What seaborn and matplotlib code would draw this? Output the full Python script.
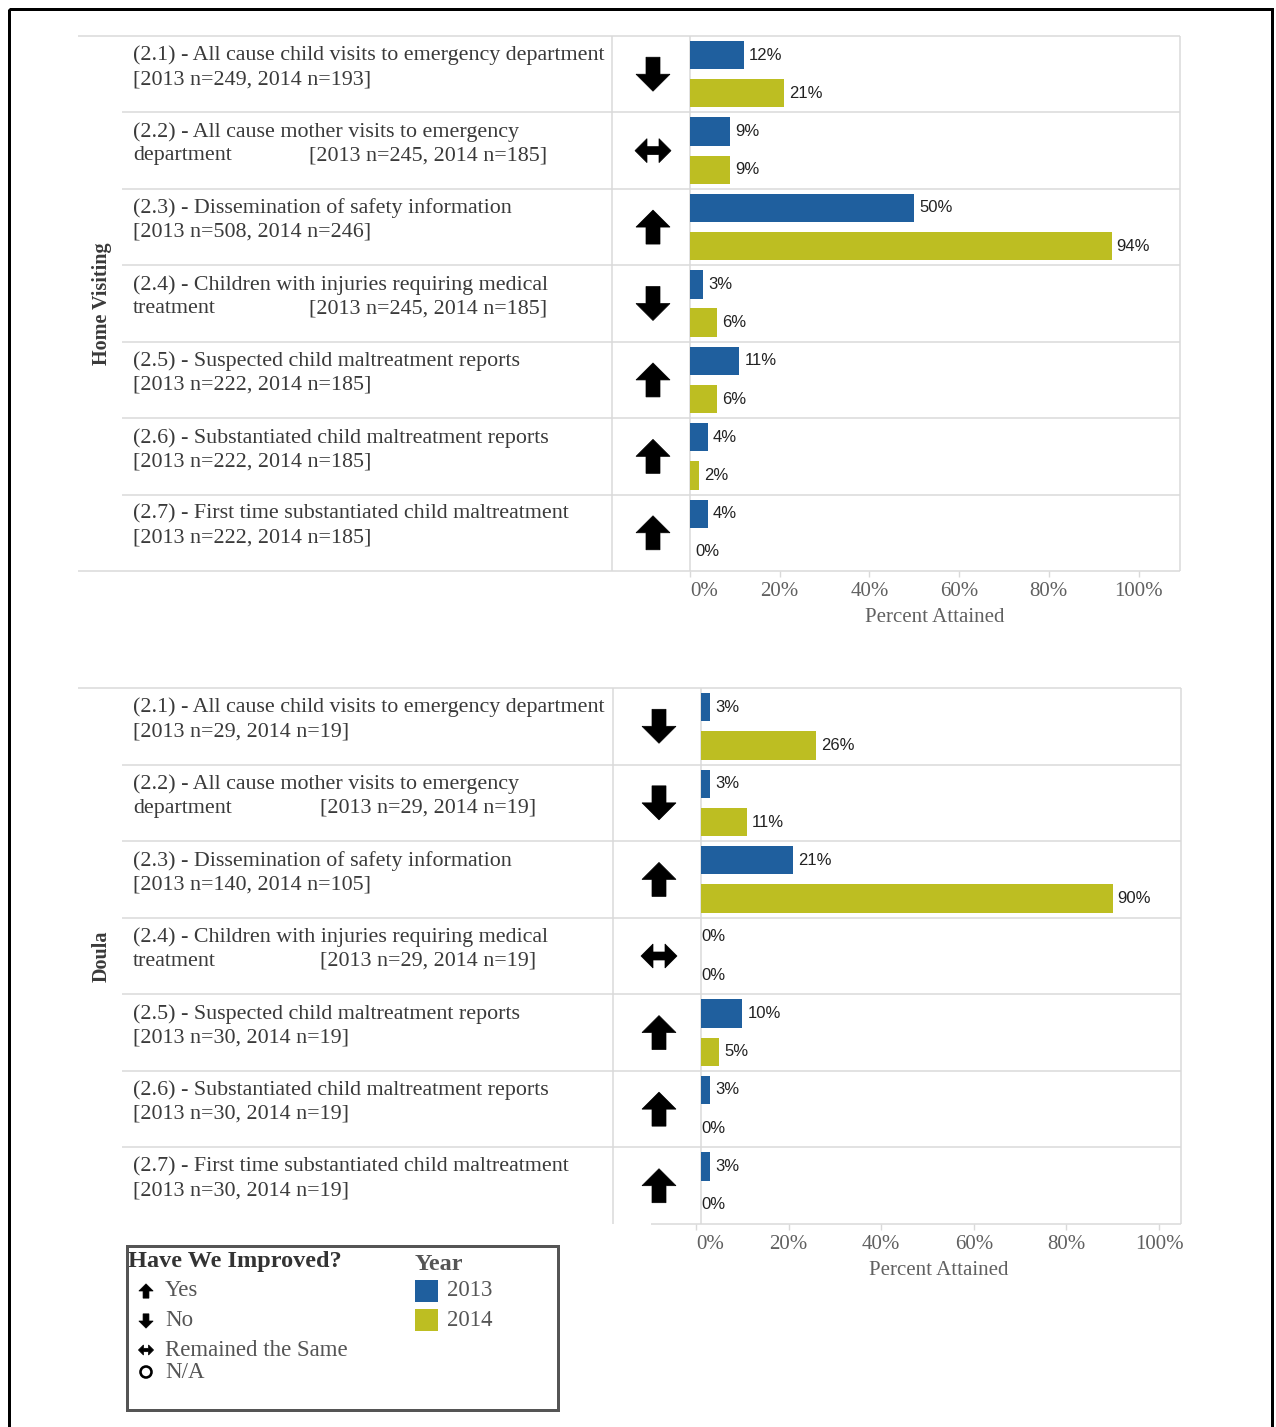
import matplotlib
matplotlib.use("Agg")
import matplotlib.pyplot as plt
from matplotlib.patches import Polygon, Rectangle, Circle
from matplotlib.transforms import Bbox, TransformedBbox
import numpy as np
import pandas as pd
import seaborn as sns

# ---------------------------------------------------------------- data
codes = ["2.1", "2.2", "2.3", "2.4", "2.5", "2.6", "2.7"]
label_line1 = [
    "(2.1) - All cause child visits to emergency department",
    "(2.2) - All cause mother visits to emergency",
    "(2.3) - Dissemination of safety information",
    "(2.4) - Children with injuries requiring medical",
    "(2.5) - Suspected child maltreatment reports",
    "(2.6) - Substantiated child maltreatment reports",
    "(2.7) - First time substantiated child maltreatment",
]
label_line2_prefix = ["", "department", "", "treatment", "", "", ""]

years = ["2013", "2014"]

hv_n_2013 = [249, 245, 508, 245, 222, 222, 222]
hv_n_2014 = [193, 185, 246, 185, 185, 185, 185]
hv_pct_2013 = [12, 9, 50, 3, 11, 4, 4]
hv_pct_2014 = [21, 9, 94, 6, 6, 2, 0]
hv_trend = ["No", "Same", "Yes", "No", "Yes", "Yes", "Yes"]

doula_n_2013 = [29, 29, 140, 29, 30, 30, 30]
doula_n_2014 = [19, 19, 105, 19, 19, 19, 19]
doula_pct_2013 = [3, 3, 21, 0, 10, 3, 3]
doula_pct_2014 = [26, 11, 90, 0, 5, 0, 0]
doula_trend = ["No", "No", "Yes", "Same", "Yes", "Yes", "Yes"]

ticks = [0, 20, 40, 60, 80, 100]
legend_trend = [("Yes", "Yes"), ("No", "No"), ("Same", "Remained the Same"), ("NA", "N/A")]

# ---------------------------------------------------------------- style
sns.set_theme(style="white")
plt.rcParams["font.family"] = ["Liberation Serif", "DejaVu Serif"]

BLUE = "#1f5f9e"
OLIVE = "#bdbe22"
GRID = "#d9d9d9"
TEXT = "#3a3a3a"
AXTEXT = "#606060"
LABEL_SIZE = 15.8

W, H = 1276, 1427
PT = 72 / 100  # points per pixel at dpi 100

fig = plt.figure(figsize=(W / 100, H / 100), dpi=100)
fig.patch.set_facecolor("white")
ov = fig.add_axes([0, 0, 1, 1])
ov.set_xlim(0, W)
ov.set_ylim(H, 0)
ov.axis("off")


def rect(x0, y0, x1, y1):
    return [x0 / W, 1 - y1 / H, (x1 - x0) / W, (y1 - y0) / H]


def line(xs, ys, color=GRID, lw=1.5):
    ov.plot(xs, ys, color=color, lw=lw * PT, solid_capstyle="butt", zorder=1)


ARROWS = {
    "Yes": [(0, -17), (17, 0), (7, 0), (7, 17), (-7, 17), (-7, 0), (-17, 0)],
    "No": [(0, 17), (17, 0), (7, 0), (7, -17), (-7, -17), (-7, 0), (-17, 0)],
    "Same": [(-18, 0), (-6, -12), (-6, -4), (6, -4), (6, -12), (18, 0),
             (6, 12), (6, 4), (-6, 4), (-6, 12)],
}


def icon(kind, cx, cy, s=1.0):
    if kind == "NA":
        ov.add_patch(Circle((cx, cy), 5.5 * s / 0.42, fill=False, ec="black",
                            lw=2.6 * PT, zorder=3))
        return
    pts = [(cx + x * s, cy + y * s) for x, y in ARROWS[kind]]
    ov.add_patch(Polygon(pts, closed=True, fc="black", ec="black", lw=0.5, zorder=3))


# outer frame
ov.add_patch(Rectangle((9, 9), 1263, 1440, fill=False, ec="black", lw=3 * PT, zorder=5))


def draw_panel(title, top, bottom, sep_x, clip_x, zero_x, right_x, px_per_pct,
               n13, n14, v13, v14, trend, bottom_left, arrow_x, bracket_dx):
    rh = (bottom - top) / 7

    # grid lines of the table
    line([78, right_x], [top, top])
    for i in range(1, 7):
        y = top + i * rh
        line([122, right_x], [y, y])
    line([bottom_left, right_x], [bottom, bottom])
    for x in (sep_x, clip_x, right_x):
        line([x, x], [top, bottom])

    # panel title
    ov.text(102, (top + bottom) / 2, title, rotation=90, ha="center", va="center",
            fontsize=14.5, fontweight="bold", color=TEXT)

    # row labels and trend arrows
    for i in range(7):
        rt = top + i * rh
        ov.text(133, rt + 19.5, label_line1[i], ha="left", va="center",
                fontsize=LABEL_SIZE, color=TEXT)
        bracket = f"[2013 n={n13[i]}, 2014 n={n14[i]}]"
        if label_line2_prefix[i]:
            ov.text(133, rt + 43.5, label_line2_prefix[i], ha="left", va="center",
                    fontsize=LABEL_SIZE, color=TEXT)
            ov.text(133 + bracket_dx, rt + 43.5, bracket, ha="left", va="center",
                    fontsize=LABEL_SIZE, color=TEXT)
        else:
            ov.text(133, rt + 43.5, bracket, ha="left", va="center",
                    fontsize=LABEL_SIZE, color=TEXT)
        icon(trend[i], arrow_x, rt + rh / 2)

    # bars
    ax = fig.add_axes(rect(zero_x, top, right_x, bottom))
    ax.patch.set_alpha(0)
    df = pd.DataFrame({
        "measure": codes * 2,
        "year": [years[0]] * 7 + [years[1]] * 7,
        "value": list(v13) + list(v14),
    })
    sns.barplot(data=df, x="value", y="measure", hue="year", hue_order=years,
                order=codes, orient="h", palette=[BLUE, OLIVE], saturation=1,
                width=1.0, gap=0.26, errorbar=None, legend=False, ax=ax,
                linewidth=0)
    ax.set_xlim(0, (right_x - zero_x) / px_per_pct)
    ax.set_ylim(6.5, -0.5)
    clip = TransformedBbox(Bbox.from_extents(clip_x, bottom, right_x, top), ov.transData)
    for p in ax.patches:
        p.set_clip_box(clip)
    for cont in ax.containers:
        ax.bar_label(cont, fmt="{:.0f}%", padding=5 * PT, fontsize=12,
                     family="Liberation Sans", color="#222222")
    for sp in ax.spines.values():
        sp.set_visible(False)
    ax.set_yticks([])
    ax.set_ylabel("")
    ax.set_xticks(ticks)
    ax.set_xticklabels([f"{t}%" for t in ticks])
    ax.tick_params(axis="x", bottom=True, length=6 * PT, width=1, color=GRID,
                   labelsize=15, labelcolor=AXTEXT, pad=5 * PT)
    # the first tick label sits to the right of its tick
    first = ax.get_xticklabels()[0]
    first.set_horizontalalignment("left")
    ax.set_xlabel("Percent Attained", fontsize=15, color=AXTEXT, labelpad=7 * PT)
    return ax


draw_panel("Home Visiting", 36, 571, 612, 690, 690, 1180, 4.485,
           hv_n_2013, hv_n_2014, hv_pct_2013, hv_pct_2014, hv_trend,
           bottom_left=78, arrow_x=653, bracket_dx=176)
draw_panel("Doula", 688, 1224, 613, 701, 696, 1181, 4.63,
           doula_n_2013, doula_n_2014, doula_pct_2013, doula_pct_2014, doula_trend,
           bottom_left=651, arrow_x=659, bracket_dx=187)

# legend box
ov.add_patch(Rectangle((127, 1246), 431, 164, fill=False, ec="#555555", lw=3 * PT, zorder=4))
ov.text(128, 1262, "Have We Improved?", ha="left", va="center", fontsize=17.5,
        fontweight="bold", color="#333333")
for (kind, txt), y in zip(legend_trend, [1291, 1321, 1350, 1372]):
    icon(kind, 146, y, s=0.42)
    ov.text(165, y, txt, ha="left", va="center", fontsize=16.5, color="#555555")
ov.text(415, 1264, "Year", ha="left", va="center", fontsize=17.5, fontweight="bold",
        color="#555555")
for yr, col, y in zip(years, [BLUE, OLIVE], [1291, 1320]):
    ov.add_patch(Rectangle((415, y - 11), 23, 22, fc=col, ec="none", zorder=3))
    ov.text(447, y, yr, ha="left", va="center", fontsize=16.5, color="#555555")

fig.savefig("out.png", dpi=100)
